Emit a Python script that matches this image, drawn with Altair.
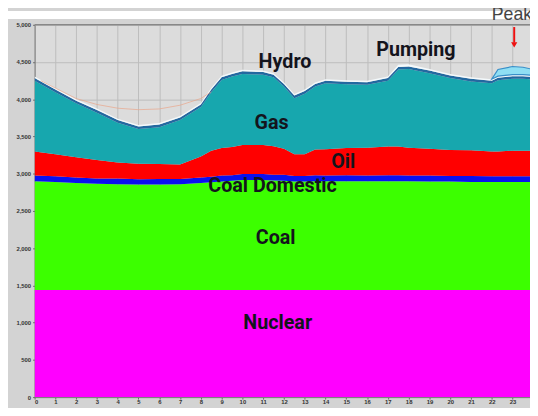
import altair as alt
import pandas as pd

hours = [0, 1, 2, 3, 4, 5, 6, 7, 8, 8.5, 9, 9.5, 10, 11, 11.5, 12, 12.5, 13, 13.5, 14,
         15, 16, 17, 17.5, 18, 19, 20, 21, 22, 22.3, 23, 23.5, 24]
nuclear = [1440, 1440, 1440, 1440, 1440, 1440, 1440, 1440, 1440, 1440, 1440, 1440, 1440, 1440, 1440, 1440, 1440,
           1440, 1440, 1440, 1440, 1440, 1440, 1440, 1440, 1440, 1440, 1440, 1440, 1440, 1440, 1440, 1440]
coal = [1460, 1450, 1435, 1425, 1420, 1415, 1415, 1420, 1435, 1445, 1455, 1465, 1475, 1475, 1470, 1465, 1455,
        1455, 1460, 1460, 1460, 1460, 1460, 1460, 1460, 1455, 1455, 1450, 1450, 1450, 1450, 1450, 1450]
coal_domestic = [75, 75, 75, 70, 75, 70, 75, 70, 75, 75, 80, 75, 80, 80, 75, 80, 75,
                 75, 80, 75, 80, 75, 80, 80, 75, 80, 75, 80, 75, 75, 75, 75, 75]
oil = [325, 295, 270, 250, 215, 210, 200, 195, 280, 350, 370, 380, 390, 390, 385, 350, 290,
       290, 345, 355, 365, 375, 385, 385, 375, 360, 350, 345, 335, 335, 345, 345, 345]
gas = [950, 835, 725, 635, 535, 465, 495, 595, 665, 785, 915, 945, 955, 945, 925, 835, 755,
       815, 845, 885, 855, 845, 885, 1035, 1055, 1015, 965, 925, 915, 955, 965, 965, 955]
hydro = [35, 35, 35, 35, 35, 35, 35, 35, 35, 35, 35, 35, 35, 35, 35, 35, 35,
         35, 35, 35, 35, 35, 35, 35, 35, 35, 35, 35, 35, 35, 35, 35, 35]
pumping = [20, 20, 20, 20, 20, 20, 20, 20, 20, 20, 20, 20, 20, 20, 20, 20, 20,
           20, 20, 20, 20, 20, 20, 30, 30, 20, 20, 20, 20, 20, 20, 20, 20]
peak = [0, 0, 0, 0, 0, 0, 0, 0, 0, 0, 0, 0, 0, 0, 0, 0, 0,
        0, 0, 0, 0, 0, 0, 0, 0, 0, 0, 0, 0, 90, 110, 100, 80]

forecast_hours = [0.3, 1, 2, 3, 4, 5, 6, 7, 8, 8.5]
forecast = [4250, 4150, 4010, 3930, 3880, 3860, 3870, 3920, 4010, 4100]

x_ticks = [0, 1, 2, 3, 4, 5, 6, 7, 8, 9, 10, 11, 12, 13, 14, 15, 16, 17, 18, 19, 20, 21, 22, 23]
y_ticks = [0, 500, 1000, 1500, 2000, 2500, 3000, 3500, 4000, 4500, 5000]

sources = ["Nuclear", "Coal", "Coal Domestic", "Oil", "Gas", "Hydro", "Pumping", "Peak"]
series = [nuclear, coal, coal_domestic, oil, gas, hydro, pumping, peak]
colors = ["#ff00ff", "#3cff00", "#0a10f0", "#ff0000", "#17a7ae", "#2368a0", "#f4f9fb", "#8fdff4"]

labels = ["Hydro", "Pumping", "Gas", "Oil", "Coal Domestic", "Coal", "Nuclear"]
label_x = [12.05, 18.35, 11.4, 14.85, 11.45, 11.6, 11.7]
label_y = [4500, 4660, 3680, 3150, 2840, 2130, 1000]

rows = []
for i, h in enumerate(hours):
    base = 0
    for s, vals in zip(sources, series):
        rows.append({"hour": h, "source": s, "lo": base, "hi": base + vals[i]})
        base += vals[i]
df = pd.DataFrame(rows)

xs = alt.Scale(domain=[0, 23.84], nice=False, zero=False)
ys = alt.Scale(domain=[0, 5000], nice=False)

x_axis = alt.Axis(values=x_ticks, grid=True, gridColor="#bdbdbd", gridWidth=1, labelOverlap=False,
                  labelFontSize=6, labelColor="#333", labelFont="Liberation Sans",
                  labelFontWeight="bold", tickSize=2, tickColor="#666", labelPadding=0,
                  labelExpr="format(datum.value, 'd')", domainColor="#777", title=None)
y_axis = alt.Axis(values=y_ticks, grid=True, gridColor="#bdbdbd", gridWidth=1, labelOverlap=False,
                  labelFontSize=6, labelColor="#333", labelFont="Liberation Sans",
                  labelFontWeight="bold", tickSize=2, tickColor="#666", labelPadding=2,
                  labelExpr="format(datum.value, ',')", domainColor="#777", title=None)


def X(field):
    return alt.X(field, scale=xs, axis=x_axis)


def Y(field):
    return alt.Y(field, scale=ys, axis=y_axis)


whitestrip = alt.Chart(pd.DataFrame({"a": [0]})).mark_rect(color="white").encode(
    x=alt.value(-27), x2=alt.value(503), y=alt.value(-14), y2=alt.value(-6)
)

areas = alt.Chart(df[df.source != "Peak"]).mark_area(interpolate="linear", clip=True).encode(
    x=X("hour:Q"),
    y=Y("hi:Q"),
    y2="lo:Q",
    color=alt.Color("source:N", scale=alt.Scale(domain=sources, range=colors), legend=None),
    detail="source:N",
)

peak_df = df[df.source == "Peak"]
peak_area = alt.Chart(peak_df[peak_df.hour >= 22]).mark_area(
    interpolate="linear", clip=True, color="#8fdff4", stroke="#3a8fc8", strokeWidth=1.2
).encode(x=X("hour:Q"), y=Y("hi:Q"), y2="lo:Q")

fc = alt.Chart(pd.DataFrame({"hour": forecast_hours, "v": forecast})).mark_line(
    color="#e9a58a", strokeWidth=1, opacity=0.7, clip=True
).encode(x=X("hour:Q"), y=Y("v:Q"))

ldf = pd.DataFrame({"hour": label_x, "v": label_y, "t": labels})
text = alt.Chart(ldf).mark_text(
    font="Roboto", fontWeight="bold", fontSize=20, color="#14141c",
    align="center", baseline="middle"
).encode(x=X("hour:Q"), y=Y("v:Q"), text="t:N")

peak_txt = alt.Chart(pd.DataFrame({"hour": [22.0], "v": [5000], "t": ["Peak"]})).mark_text(
    font="Liberation Sans", fontSize=18, color="#444", align="left", baseline="bottom", dy=-1
).encode(x=X("hour:Q"), y=Y("v:Q"), text="t:N")

arrow = alt.Chart(pd.DataFrame({"hour": [23.08], "a": [4970], "b": [4760]})).mark_rule(
    color="#ee1111", strokeWidth=2
).encode(x=X("hour:Q"), y=Y("a:Q"), y2="b:Q")
head = alt.Chart(pd.DataFrame({"hour": [23.08], "v": [4730]})).mark_point(
    shape="triangle-down", filled=True, color="#ee1111", size=40, opacity=1
).encode(x=X("hour:Q"), y=Y("v:Q"))

topline = alt.Chart(pd.DataFrame({"a": [0]})).mark_rule(color="#888", strokeWidth=1.5).encode(
    x=alt.value(0), x2=alt.value(503), y=alt.value(0)
)

chart = alt.layer(whitestrip, areas, peak_area, fc, topline, text, peak_txt, arrow, head).properties(
    width=503, height=378, autosize=alt.AutoSizeParams(type="none"),
    padding={"left": 27, "top": 14, "right": 0, "bottom": 8}, background="#d3d3d3"
).configure_view(stroke=None, fill="#dcdcdc")

chart.save("out.html", embed_options={"renderer": "svg", "actions": False})
